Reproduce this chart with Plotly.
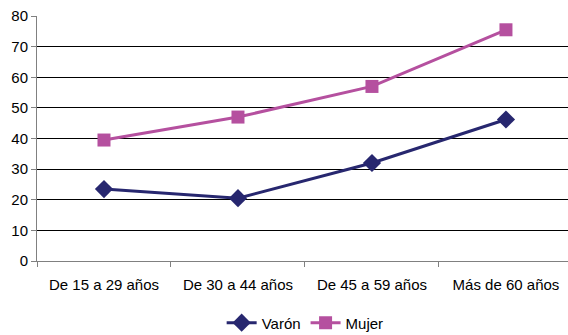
import plotly.graph_objects as go

categorias = ["De 15 a 29 años", "De 30 a 44 años", "De 45 a 59 años", "Más de 60 años"]
varon = [23.5, 20.5, 32.0, 46.2]
mujer = [39.5, 47.0, 57.0, 75.5]
y_ticks = [0, 10, 20, 30, 40, 50, 60, 70, 80]

fig = go.Figure()
fig.add_trace(go.Scatter(
    x=categorias, y=varon, name="Varón", mode="lines+markers",
    line=dict(color="#27276F", width=3),
    marker=dict(symbol="diamond", size=14, color="#27276F"),
))
fig.add_trace(go.Scatter(
    x=categorias, y=mujer, name="Mujer", mode="lines+markers",
    line=dict(color="#B5509F", width=3),
    marker=dict(symbol="square", size=13, color="#B5509F"),
))

fig.update_layout(
    width=568, height=335,
    margin=dict(l=37, r=0, t=16, b=74, autoexpand=False),
    paper_bgcolor="white", plot_bgcolor="white",
    font=dict(family="Liberation Sans, Arial, sans-serif", size=15, color="black"),
    showlegend=True,
    legend=dict(orientation="h", x=0.505, xanchor="center",
                yref="container", y=0.036, yanchor="middle",
                font=dict(size=15), tracegroupgap=0),
)
fig.update_xaxes(
    type="category", range=[-0.5, 3.463],
    showline=True, linecolor="#808080", linewidth=1,
    ticks="outside", tickson="boundaries", ticklen=5, tickcolor="#808080",
    ticklabelstandoff=10,
    showgrid=False, zeroline=False, automargin=False,
)
fig.update_yaxes(
    range=[0, 80], tickvals=y_ticks,
    showline=True, linecolor="#808080", linewidth=1,
    ticks="outside", ticklen=5, tickcolor="#808080",
    showgrid=True, gridcolor="#000000", gridwidth=1, zeroline=False, automargin=False,
)

fig.write_html("out.html")
